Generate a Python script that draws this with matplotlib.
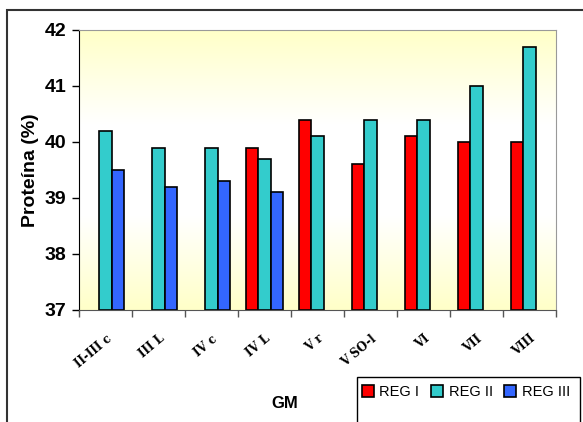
import numpy as np
import matplotlib.pyplot as plt
from matplotlib.colors import LinearSegmentedColormap
from matplotlib.patches import Rectangle

plt.rcParams['font.family'] = ['Liberation Sans', 'DejaVu Sans']

# dados
gm = ['II-III c', 'III L', 'IV c', 'IV L', 'V r', 'V SO-l', 'VI', 'VII', 'VIII']
reg1 = [np.nan, np.nan, np.nan, 39.9, 40.4, 39.6, 40.1, 40.0, 40.0]
reg2 = [40.2, 39.9, 39.9, 39.7, 40.1, 40.4, 40.4, 41.0, 41.7]
reg3 = [39.5, 39.2, 39.3, 39.1, np.nan, np.nan, np.nan, np.nan, np.nan]
series = ['REG I', 'REG II', 'REG III']
colors = ['#ff0000', '#33cccc', '#3366ff']

W, H = 583, 422
fig = plt.figure(figsize=(W / 100, H / 100), dpi=100)
ax = fig.add_axes([79 / W, 1 - 310 / H, (556 - 79) / W, (310 - 30) / H])

# fundo em degradê amarelo-branco-amarelo
cmap = LinearSegmentedColormap.from_list('bg', ['#ffffc8', '#ffffff', '#ffffff', '#ffffc8'])
grad = np.linspace(0, 1, 256).reshape(-1, 1)
x = np.arange(len(gm))
ax.imshow(grad, aspect='auto', cmap=cmap, extent=(-0.5, len(gm) - 0.5, 37, 42),
          zorder=0, origin='lower')

w = 0.235
for i, (vals, c, lab) in enumerate(zip([reg1, reg2, reg3], colors, series)):
    ax.bar(x + (i - 1) * w, np.array(vals) - 37, w, bottom=37, color=c,
           edgecolor='black', linewidth=1.2, label=lab, zorder=2)

ax.set_xlim(-0.5, len(gm) - 0.5)
ax.set_ylim(37, 42)
ax.set_yticks(range(37, 43))
ax.tick_params(axis='y', labelsize=14, length=5, width=1, direction='out', pad=4)
for t in ax.get_yticklabels():
    t.set_fontweight('bold')

ax.set_xticks(x)
ax.set_xticklabels(gm, rotation=40, ha='right', rotation_mode='anchor',
                   fontsize=8.5, fontweight='bold', family='DejaVu Serif')
ax.set_xticks(np.arange(-0.5, len(gm)), minor=True)
ax.tick_params(axis='x', which='major', length=0, pad=16)
ax.tick_params(axis='x', which='minor', length=5, width=1, color='#555555')

for s in ['top', 'right']:
    ax.spines[s].set_color('#999999')
ax.spines['left'].set_color('black')
ax.spines['bottom'].set_color('#555555')

ax.set_ylabel('Proteína (%)', fontsize=14, fontweight='bold', labelpad=4)
fig.text(285 / W, 1 - 403 / H, 'GM', fontsize=12, fontweight='bold',
         ha='center', va='center')

# moldura externa do gráfico
fig.patches.append(Rectangle((7 / W, -0.1), 1, 1 - 10 / H + 0.1, transform=fig.transFigure,
                             fill=False, edgecolor='#333333', linewidth=1.5))

# caixa da legenda (cortada embaixo, como no original)
fig.patches.append(Rectangle((357 / W, -0.1), (580 - 357) / W, 1 - 377 / H + 0.1,
                             transform=fig.transFigure, facecolor='white',
                             edgecolor='black', linewidth=1, zorder=3))
leg = fig.legend(loc='center left', bbox_to_anchor=(359 / W, 1 - 392 / H), ncol=3,
                 frameon=False, fontsize=10.5,
                 handlelength=0.8, handleheight=0.8, handletextpad=0.4,
                 columnspacing=0.8, borderpad=0.2, borderaxespad=0)
leg.set_zorder(4)

fig.savefig('out.png', dpi=100)
